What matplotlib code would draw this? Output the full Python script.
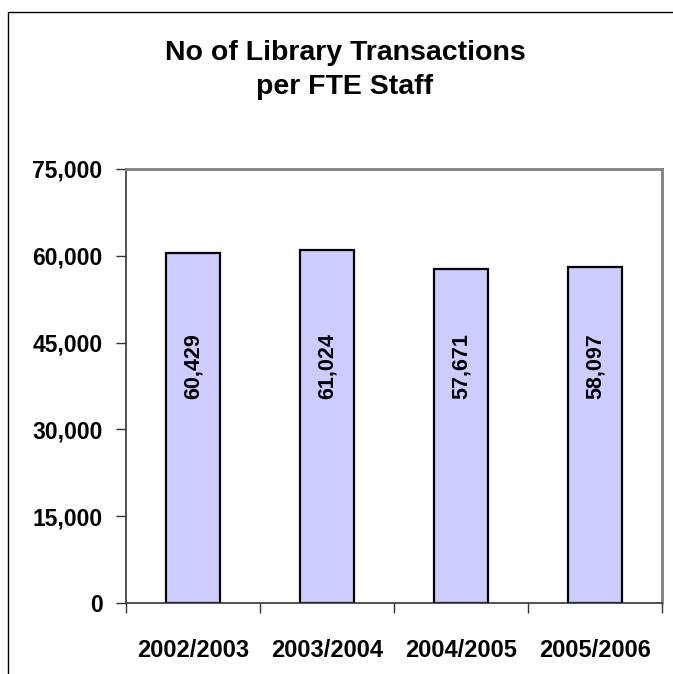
import matplotlib.pyplot as plt
import numpy as np
from matplotlib.patches import Rectangle
from matplotlib.ticker import FuncFormatter

plt.rcParams["font.family"] = ["Liberation Sans", "DejaVu Sans"]
plt.rcParams["font.weight"] = "bold"

years = ["2002/2003", "2003/2004", "2004/2005", "2005/2006"]
transactions = [60429, 61024, 57671, 58097]
y_ticks = [0, 15000, 30000, 45000, 60000, 75000]

fig = plt.figure(figsize=(6.73, 6.74), dpi=100)
ax = fig.add_axes([126 / 673, 1 - 603 / 674, 536 / 673, 434 / 674])

# outer chart frame (cropped at right and bottom in the reference)
fig.patches.append(
    Rectangle((8 / 673, -0.1), 1.2, 1.1 - 12 / 674, transform=fig.transFigure,
              fill=False, edgecolor="black", linewidth=1.0)
)

x = np.arange(len(years))
ax.bar(x, transactions, width=0.40, color="#CCCCFF", edgecolor="black",
       linewidth=1.6, zorder=2)

for xi, val in zip(x, transactions):
    ax.text(xi, 41000, f"{val:,}", rotation=90, ha="center", va="center",
            fontsize=15.5, fontweight="bold", zorder=3)

ax.set_xlim(-0.5, len(years) - 0.5)
ax.set_ylim(0, 75000)
ax.set_yticks(y_ticks)
ax.yaxis.set_major_formatter(FuncFormatter(lambda v, _: f"{int(v):,}"))
ax.set_xticks(x)
ax.set_xticklabels(years)
ax.set_xticks(np.arange(len(years) + 1) - 0.5, minor=True)
ax.tick_params(axis="x", which="major", length=0, pad=26, labelsize=17)
ax.tick_params(axis="x", which="minor", length=7, width=1.0, color="#333333")
ax.tick_params(axis="y", length=7, width=1.0, color="#333333", pad=10,
               labelsize=16.5)
for lab in ax.get_xticklabels() + ax.get_yticklabels():
    lab.set_fontweight("bold")

for side in ("top", "right"):
    ax.spines[side].set_color("#808080")
    ax.spines[side].set_linewidth(2.0)
for side in ("left", "bottom"):
    ax.spines[side].set_color("#333333")
    ax.spines[side].set_linewidth(1.2)

fig.text(345 / 673, 1 - 70 / 674, "No of Library Transactions\nper FTE Staff",
         ha="center", va="center", fontsize=20.5, fontweight="bold",
         linespacing=1.35)

fig.savefig("out.png", dpi=100)
